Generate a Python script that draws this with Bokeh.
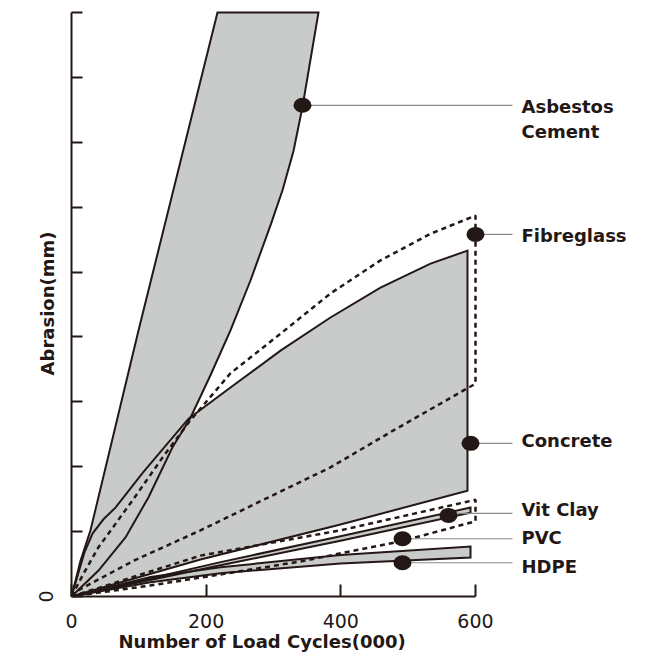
from bokeh.plotting import figure
from bokeh.models import Range1d, FixedTicker, Title
from bokeh.core.properties import value
from bokeh.embed import file_html
from bokeh.resources import INLINE

# ---------------- data (x: load cycles in 000, y: abrasion) ----------------
asb_left_x = [0, 13.4, 28.2, 99.5, 216.8]
asb_left_y = [0, 0.55, 1.02, 4.10, 9.0]
asb_right_x = [0, 40.1, 80.2, 114.4, 150.0, 176.0, 206.4, 236.1, 265.8, 295.5, 313.4, 329.8, 343.1, 366.8]
asb_right_y = [0, 0.40, 0.91, 1.53, 2.30, 2.74, 3.41, 4.10, 4.87, 5.72, 6.26, 6.87, 7.55, 9.0]

con_top_x = [0, 10.4, 19.3, 31.2, 47.5, 65.3, 105.4, 173.8, 236.1, 310.4, 384.6, 458.9, 533.2, 588.1]
con_top_y = [0, 0.37, 0.68, 0.97, 1.19, 1.37, 1.90, 2.74, 3.22, 3.79, 4.30, 4.76, 5.13, 5.33]
con_bot_x = [0, 191.6, 399.5, 588.1]
con_bot_y = [0, 0.57, 1.11, 1.63]

fib_top_x = [0, 17.8, 40.1, 90.6, 135.1, 173.8, 236.1, 310.4, 384.6, 458.9, 533.2, 600]
fib_top_y = [0, 0.35, 0.76, 1.48, 2.14, 2.68, 3.44, 4.05, 4.67, 5.18, 5.59, 5.87]
fib_bot_x = [0, 8.9, 92.1, 191.6, 384.6, 478.2, 600]
fib_bot_y = [0, 0.09, 0.55, 1.02, 1.99, 2.56, 3.28]

pvc_top_x = [0, 191.6, 399.5, 600]
pvc_top_y = [0, 0.63, 1.02, 1.49]
pvc_bot_x = [0, 117.3, 221.3, 340.1, 493.1, 600]
pvc_bot_y = [0, 0.17, 0.34, 0.54, 0.86, 1.16]

vit_x = [0, 221.3, 399.5, 592.6]
vit_top_y = [0, 0.53, 0.93, 1.37]
vit_bot_y = [0, 0.48, 0.86, 1.29]

hdpe_x = [0, 117.3, 221.3, 399.5, 592.6]
hdpe_top_y = [0, 0.30, 0.45, 0.64, 0.77]
hdpe_bot_y = [0, 0.22, 0.36, 0.51, 0.60]

dot_x = [343.1, 600, 592.6, 559.9, 491.6, 491.6]
dot_y = [7.57, 5.58, 2.36, 1.25, 0.89, 0.52]
leader_y = [7.57, 5.58, 2.36, 1.28, 0.89, 0.52]
leader_end = 654.9

label_text = ["Asbestos", "Cement", "Fibreglass", "Concrete", "Vit Clay", "PVC", "HDPE"]
label_y = [7.55, 7.17, 5.56, 2.40, 1.34, 0.91, 0.46]
label_x = 668.3

x_ticks = [0, 200, 400, 600]
y_ticks = [0, 1, 2, 3, 4, 5, 6, 7, 8, 9]

x_title = "Number of Load Cycles(000)"
y_title = "Abrasion(mm)"

# ---------------- styles ----------------
INK = "#231815"
GRAY = "#c9caca"
LEADER = "#8a8a8a"
FONT = "DejaVu Sans"

p = figure(width=650, height=660,
           x_range=Range1d(0, 859.9), y_range=Range1d(0, 9.031),
           output_backend="svg", toolbar_location=None,
           min_border_left=71, min_border_right=0,
           min_border_top=10, min_border_bottom=64)
p.outline_line_color = None
p.xgrid.visible = False
p.ygrid.visible = False
p.background_fill_color = "white"

def poly(a_x, a_y, b_x, b_y):
    return list(a_x) + list(b_x)[::-1], list(a_y) + list(b_y)[::-1]

# fills
ax, ay = poly(asb_left_x, asb_left_y, asb_right_x, asb_right_y)
p.patch(ax, ay, fill_color=GRAY, line_color=None)
cx, cy = poly(con_top_x, con_top_y, con_bot_x, con_bot_y)
p.patch(cx, cy, fill_color=GRAY, line_color=None)
vx, vy = poly(vit_x, vit_top_y, vit_x, vit_bot_y)
p.patch(vx, vy, fill_color=GRAY, line_color=None)
hx, hy = poly(hdpe_x, hdpe_top_y, hdpe_x, hdpe_bot_y)
p.patch(hx, hy, fill_color=GRAY, line_color=None)

# solid outlines
for xs, ys in [(ax + [ax[0]], ay + [ay[0]]), (cx + [cx[0]], cy + [cy[0]]),
               (vx + [vx[0]], vy + [vy[0]]), (hx + [hx[0]], hy + [hy[0]])]:
    p.line(xs, ys, line_color=INK, line_width=2, line_join="miter")

# dashed envelopes
fx, fy = poly(fib_top_x, fib_top_y, fib_bot_x, fib_bot_y)
p.line(fx, fy, line_color=INK, line_width=2.5, line_dash="5 4")
px_, py_ = poly(pvc_top_x, pvc_top_y, pvc_bot_x, pvc_bot_y)
p.line(px_, py_, line_color=INK, line_width=2.5, line_dash="5 4")

# leaders and dots
p.segment(x0=dot_x, y0=leader_y, x1=[leader_end] * len(dot_x), y1=leader_y,
          line_color=LEADER, line_width=1.2)
p.ellipse(x=dot_x, y=dot_y, width=18, height=15, width_units="screen",
          height_units="screen", fill_color=INK, line_color=None)

p.text(x=[label_x] * len(label_text), y=label_y, text=label_text,
       text_font=value(FONT), text_font_style="bold", text_font_size="18px",
       text_color=INK, text_baseline="middle", text_align="left")

# axes
for ax_ in (p.xaxis[0], p.yaxis[0]):
    ax_.axis_line_color = INK
    ax_.axis_line_width = 2
    ax_.major_tick_line_color = INK
    ax_.major_tick_line_width = 2
    ax_.major_tick_out = 0
    ax_.minor_tick_line_color = None
    ax_.major_label_text_font = FONT
    ax_.major_label_text_font_size = "19px"
    ax_.major_label_text_color = INK

p.xaxis.ticker = FixedTicker(ticks=x_ticks)
p.xaxis.bounds = (0, 600)
p.xaxis.major_tick_in = 12
p.xaxis.major_label_standoff = 17

p.yaxis.ticker = FixedTicker(ticks=y_ticks)
p.yaxis.bounds = (0, 9)
p.yaxis.major_tick_in = 11
p.yaxis.major_label_standoff = 19
p.yaxis.major_label_orientation = "vertical"
p.yaxis.major_label_overrides = {t: "" for t in y_ticks if t != 0}
p.yaxis.axis_label = y_title
p.yaxis.axis_label_text_font = FONT
p.yaxis.axis_label_text_font_style = "bold"
p.yaxis.axis_label_text_font_size = "18px"
p.yaxis.axis_label_text_color = INK
p.yaxis.axis_label_standoff = -22

p.add_layout(Title(text=x_title, align="left", offset=47, vertical_align="top",
                   standoff=0, text_font=FONT, text_font_style="bold",
                   text_font_size="18px", text_color=INK), "below")

open("out.html", "w").write(file_html(p, INLINE))
